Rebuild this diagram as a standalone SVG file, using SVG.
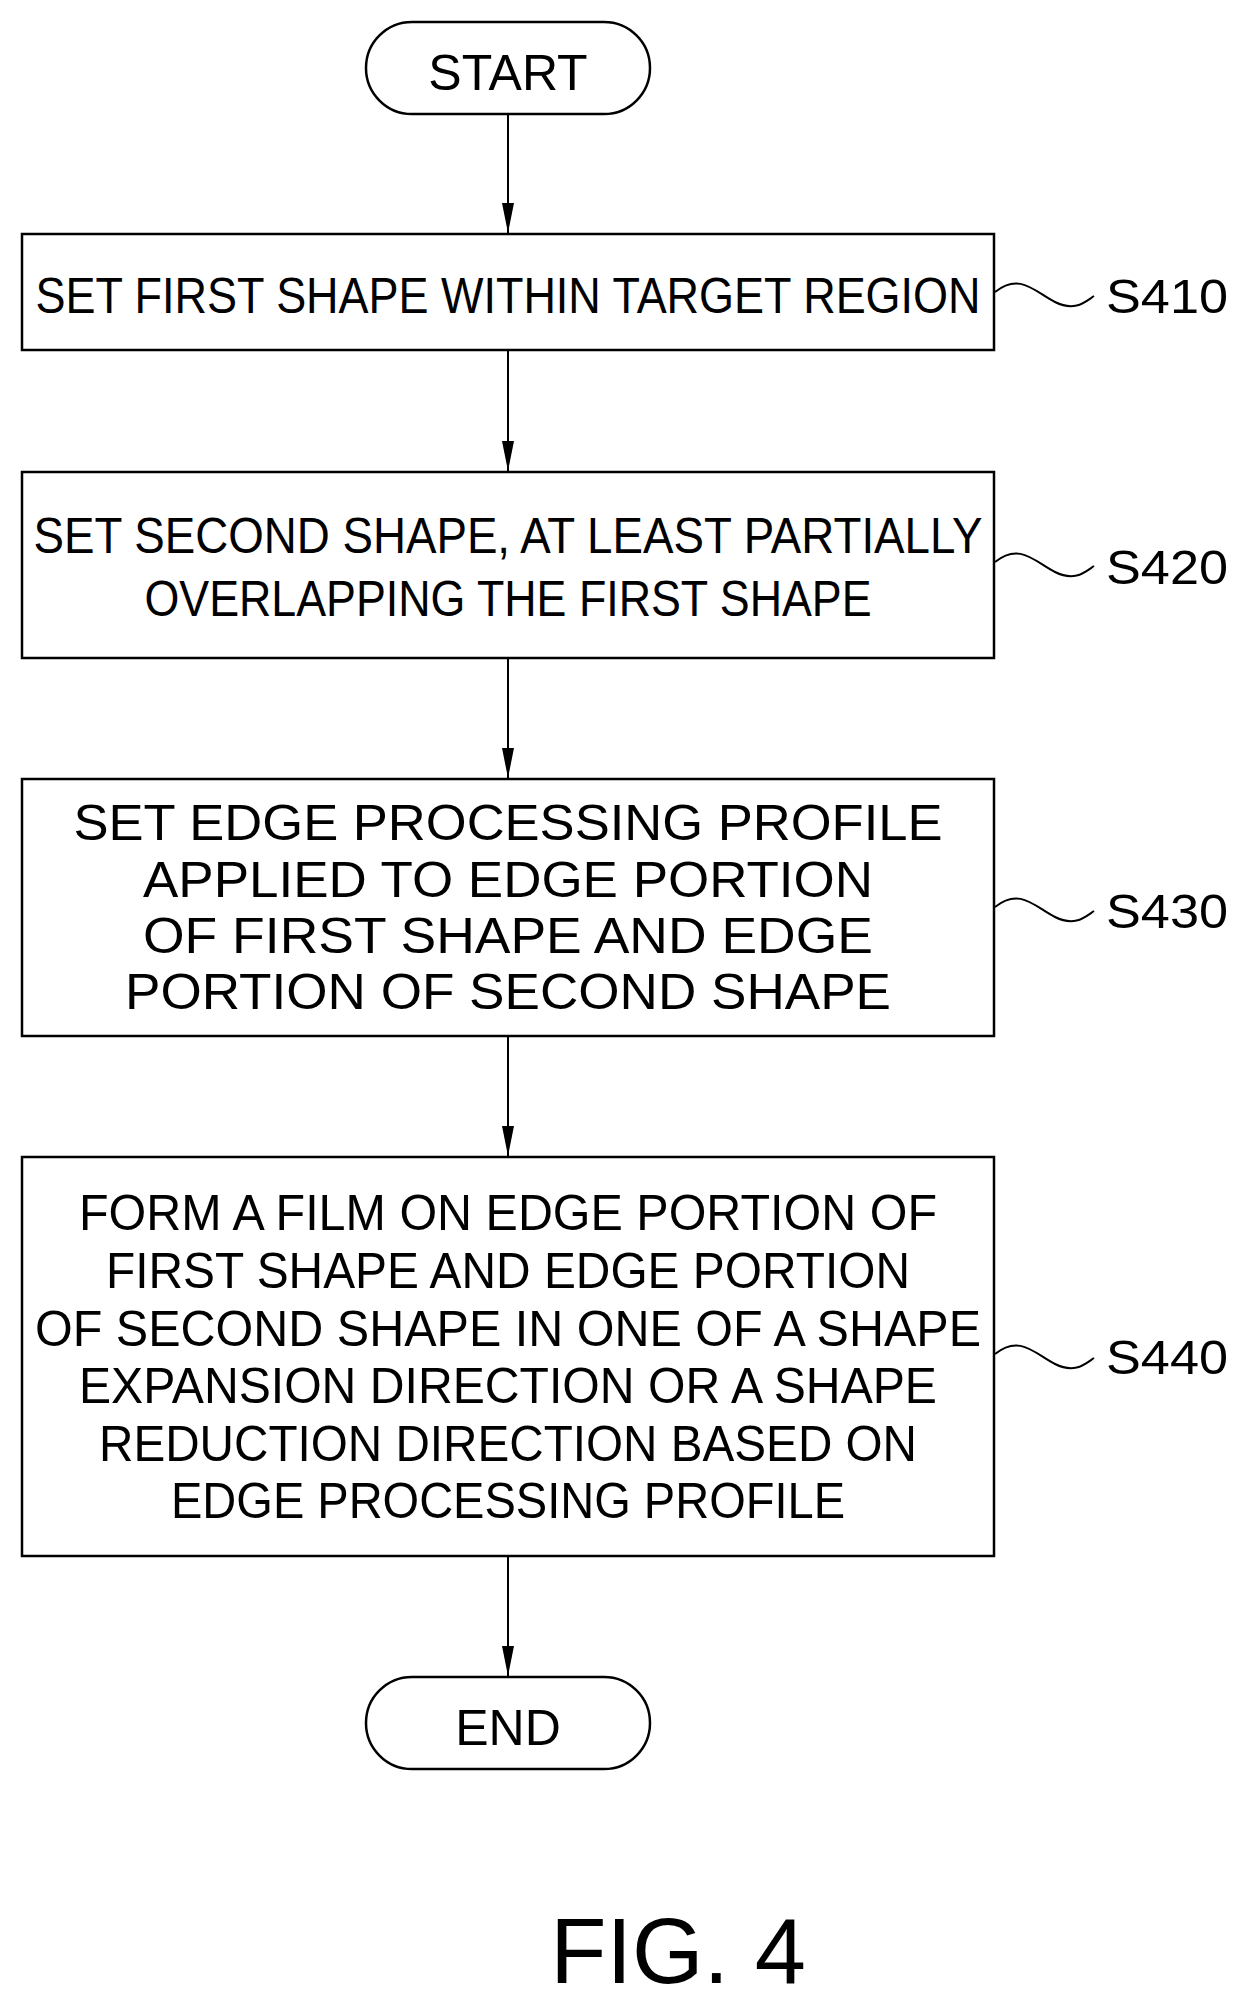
<svg xmlns="http://www.w3.org/2000/svg" width="1247" height="2006" viewBox="0 0 1247 2006">
<style>
.b{fill:#fff;stroke:#000;stroke-width:2.5}
.t{font-family:"Liberation Sans",Arial,sans-serif;font-size:50px;text-anchor:middle;fill:#000}
.l{font-family:"Liberation Sans",Arial,sans-serif;font-size:48px;fill:#000}
.c{fill:none;stroke:#000;stroke-width:2}
</style>
<defs><marker id="a" markerWidth="30" markerHeight="12" refX="30" refY="6" orient="auto" markerUnits="userSpaceOnUse" viewBox="0 0 30 12"><path d="M0,0 L30,6 L0,12 Z" fill="#000"/></marker></defs>
<rect width="1247" height="2006" fill="#fff"/>
<g id="connectors">
<line class="c" x1="508" y1="114" x2="508" y2="233" marker-end="url(#a)"/>
<line class="c" x1="508" y1="350" x2="508" y2="471" marker-end="url(#a)"/>
<line class="c" x1="508" y1="658" x2="508" y2="778" marker-end="url(#a)"/>
<line class="c" x1="508" y1="1036" x2="508" y2="1156" marker-end="url(#a)"/>
<line class="c" x1="508" y1="1556" x2="508" y2="1676" marker-end="url(#a)"/>
</g>
<g id="start"><rect class="b" x="366" y="22" width="284" height="92" rx="46"/><text class="t" x="508" y="90">START</text></g>
<g id="s410"><rect class="b" x="22" y="234" width="972" height="116"/><text class="t" x="508" y="313" textLength="945" lengthAdjust="spacingAndGlyphs">SET FIRST SHAPE WITHIN TARGET REGION</text>
<path class="c" d="M995,292 C1020,272 1035,292 1055,302 S1085,302 1094,296"/><text class="l" x="1106" y="313" textLength="122" lengthAdjust="spacingAndGlyphs">S410</text></g>
<g id="s420"><rect class="b" x="22" y="472" width="972" height="186"/>
<text class="t" x="508" y="553" textLength="949" lengthAdjust="spacingAndGlyphs">SET SECOND SHAPE, AT LEAST PARTIALLY</text>
<text class="t" x="508" y="616" textLength="727" lengthAdjust="spacingAndGlyphs">OVERLAPPING THE FIRST SHAPE</text>
<path class="c" d="M995,562 C1020,542 1035,562 1055,572 S1085,572 1094,566"/><text class="l" x="1106" y="584" textLength="122" lengthAdjust="spacingAndGlyphs">S420</text></g>
<g id="s430"><rect class="b" x="22" y="779" width="972" height="257"/>
<text class="t" x="508" y="840" textLength="869" lengthAdjust="spacingAndGlyphs">SET EDGE PROCESSING PROFILE</text>
<text class="t" x="508" y="897" textLength="730" lengthAdjust="spacingAndGlyphs">APPLIED TO EDGE PORTION</text>
<text class="t" x="508" y="953" textLength="730" lengthAdjust="spacingAndGlyphs">OF FIRST SHAPE AND EDGE</text>
<text class="t" x="508" y="1009" textLength="766" lengthAdjust="spacingAndGlyphs">PORTION OF SECOND SHAPE</text>
<path class="c" d="M995,907 C1020,887 1035,907 1055,917 S1085,917 1094,911"/><text class="l" x="1106" y="928" textLength="122" lengthAdjust="spacingAndGlyphs">S430</text></g>
<g id="s440"><rect class="b" x="22" y="1157" width="972" height="399"/>
<text class="t" x="508" y="1230" textLength="858" lengthAdjust="spacingAndGlyphs">FORM A FILM ON EDGE PORTION OF</text>
<text class="t" x="508" y="1288" textLength="804" lengthAdjust="spacingAndGlyphs">FIRST SHAPE AND EDGE PORTION</text>
<text class="t" x="508" y="1346" textLength="946" lengthAdjust="spacingAndGlyphs">OF SECOND SHAPE IN ONE OF A SHAPE</text>
<text class="t" x="508" y="1403" textLength="858" lengthAdjust="spacingAndGlyphs">EXPANSION DIRECTION OR A SHAPE</text>
<text class="t" x="508" y="1461" textLength="818" lengthAdjust="spacingAndGlyphs">REDUCTION DIRECTION BASED ON</text>
<text class="t" x="508" y="1518" textLength="674" lengthAdjust="spacingAndGlyphs">EDGE PROCESSING PROFILE</text>
<path class="c" d="M995,1354 C1020,1334 1035,1354 1055,1364 S1085,1364 1094,1358"/><text class="l" x="1106" y="1374" textLength="122" lengthAdjust="spacingAndGlyphs">S440</text></g>
<g id="end"><rect class="b" x="366" y="1677" width="284" height="92" rx="46"/><text class="t" x="508" y="1745">END</text></g>
<text x="678" y="1983" font-family="Liberation Sans,Arial,sans-serif" font-size="92" text-anchor="middle">FIG. 4</text>
</svg>
